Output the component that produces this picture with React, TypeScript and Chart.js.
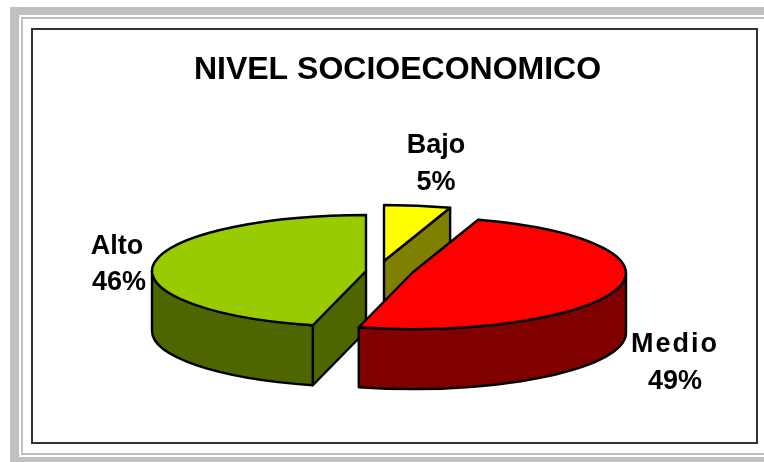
import React, { useEffect, useRef } from "react";
import { Chart, registerables } from "chart.js";

Chart.register(...registerables);

const titleText = "NIVEL SOCIOECONOMICO";
const categories = ["Bajo", "Medio", "Alto"];
const shares = [5, 49, 46];
const topColors = ["#FFFF00", "#FF0000", "#99CC00"];
const wallColors = ["#808000", "#800000", "#4D6600"];

const FONT = '"Liberation Sans", Arial, sans-serif';
const radiusX = 214;
const radiusY = 56;
const depth = 60;
const pieCenter = { x: 388, y: 270 };
// Offset of each slice from the pie's centre, in slice order
const explode = [
  { x: -4, y: -9 },
  { x: 24, y: 3 },
  { x: -22, y: 1 },
];
const drawOrder = [0, 2, 1];
const labelLayout = [
  { x: 436, y: 153, lineGap: 37, spacing: 0 },
  { x: 675, y: 352, lineGap: 37, spacing: 2 },
  { x: 117, y: 254, lineGap: 36, spacing: 0 },
];

const pie3d = {
  id: "pie3d",
  beforeDatasetsDraw(chart: any) {
    const ctx = chart.ctx as CanvasRenderingContext2D;
    const arcs = chart.getDatasetMeta(0).data;
    const stroke = () => {
      ctx.lineWidth = 2.4;
      ctx.strokeStyle = "#000";
      ctx.lineJoin = "round";
      ctx.stroke();
    };
    drawOrder.forEach((i) => {
      const { startAngle: a0, endAngle: a1 } = arcs[i].getProps(["startAngle", "endAngle"], true);
      const cx = pieCenter.x + explode[i].x;
      const cy = pieCenter.y + explode[i].y;
      const px = (a: number) => cx + radiusX * Math.cos(a);
      const py = (a: number) => cy + radiusY * Math.sin(a);
      ctx.save();
      // radial walls that face the viewer
      [a0, a1].forEach((a, idx) => {
        const facing = idx === 0 ? Math.cos(a) < -0.01 : Math.cos(a) > 0.01;
        if (!facing) return;
        ctx.beginPath();
        ctx.moveTo(cx, cy);
        ctx.lineTo(px(a), py(a));
        ctx.lineTo(px(a), py(a) + depth);
        ctx.lineTo(cx, cy + depth);
        ctx.closePath();
        ctx.fillStyle = wallColors[i];
        ctx.fill();
        stroke();
      });
      // outer wall: only the front half of the rim shows
      const from = Math.max(a0, 0);
      const to = Math.min(a1, Math.PI);
      if (to > from) {
        ctx.beginPath();
        ctx.ellipse(cx, cy, radiusX, radiusY, 0, from, to);
        ctx.lineTo(px(to), py(to) + depth);
        ctx.ellipse(cx, cy + depth, radiusX, radiusY, 0, to, from, true);
        ctx.closePath();
        ctx.fillStyle = wallColors[i];
        ctx.fill();
        stroke();
      }
      // top face
      ctx.beginPath();
      ctx.moveTo(cx, cy);
      ctx.ellipse(cx, cy, radiusX, radiusY, 0, a0, a1);
      ctx.closePath();
      ctx.fillStyle = topColors[i];
      ctx.fill();
      stroke();
      ctx.restore();
    });
    return false;
  },
  afterDraw(chart: any) {
    const ctx = chart.ctx as CanvasRenderingContext2D;
    ctx.save();
    ctx.fillStyle = "#000";
    ctx.font = `bold 27px ${FONT}`;
    ctx.textAlign = "center";
    ctx.textBaseline = "alphabetic";
    categories.forEach((name, i) => {
      const l = labelLayout[i];
      (ctx as any).letterSpacing = `${l.spacing}px`;
      ctx.fillText(name, l.x, l.y);
      (ctx as any).letterSpacing = "0px";
      ctx.fillText(`${shares[i]}%`, l.x + (i === 2 ? 2 : 0), l.y + l.lineGap);
    });
    ctx.restore();
  },
};

const box = (s: React.CSSProperties): React.CSSProperties => ({ position: "absolute", background: "#C0C0C0", ...s });

export default function App() {
  const ref = useRef<HTMLCanvasElement>(null);
  useEffect(() => {
    document.body.style.margin = "0";
    const chart = new Chart(ref.current!, {
      type: "pie",
      data: {
        labels: categories,
        datasets: [{ data: shares, backgroundColor: topColors, borderColor: "#000", borderWidth: 2 }],
      },
      options: {
        responsive: false,
        animation: false,
        layout: { padding: { left: 31, top: 29, right: 0, bottom: 20 } },
        plugins: {
          legend: { display: false },
          tooltip: { enabled: false },
          title: {
            display: true,
            text: titleText,
            color: "#000",
            font: { family: FONT, size: 32, weight: "bold" },
            padding: { top: 22, bottom: 10 },
          },
        },
      },
      plugins: [pie3d],
    } as any);
    return () => chart.destroy();
  }, []);
  return (
    <div style={{ position: "relative", width: 764, height: 462, background: "#fff", overflow: "hidden" }}>
      <div style={box({ left: 10, top: 7, width: 754, height: 8 })} />
      <div style={box({ left: 10, top: 7, width: 9, height: 455 })} />
      <div style={box({ left: 10, top: 457, width: 754, height: 5 })} />
      <div style={box({ left: 21, top: 17, width: 743, height: 2 })} />
      <div style={box({ left: 21, top: 17, width: 2, height: 438 })} />
      <div style={box({ left: 21, top: 453, width: 743, height: 2 })} />
      <div style={{ position: "absolute", left: 31, top: 28, width: 723, height: 412, border: "2px solid #333" }} />
      <canvas ref={ref} width={764} height={462} style={{ position: "absolute", left: 0, top: 0 }} />
    </div>
  );
}
